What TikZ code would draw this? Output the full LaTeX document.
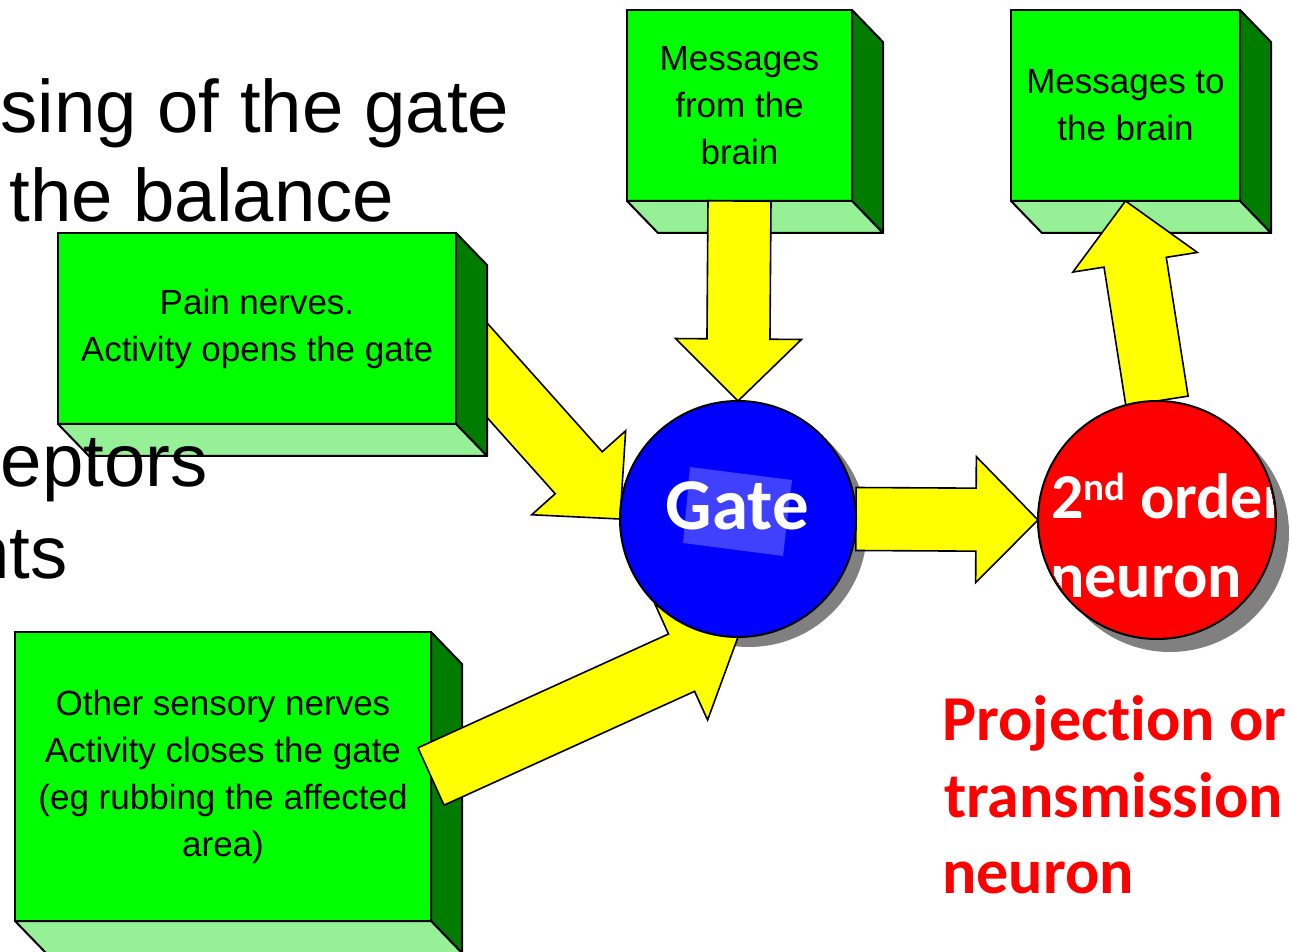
\documentclass[tikz,border=0pt]{standalone}
\usepackage{fontspec}
\newfontfamily\arialfont{Liberation Sans}
\newfontfamily\califont{Carlito}[Ligatures=NoCommon]
\usetikzlibrary{calc}

\definecolor{facegreen}{RGB}{0,255,0}
\definecolor{sidegreen}{RGB}{0,125,0}
\definecolor{hatchgreen}{RGB}{150,240,150}
\definecolor{arrowyellow}{RGB}{255,255,0}
\definecolor{gateblue}{RGB}{0,0,255}
\definecolor{gatehilite}{RGB}{64,64,255}
\definecolor{neuronred}{RGB}{255,0,0}
\definecolor{shadegrey}{RGB}{128,128,128}

\pgfdeclarelayer{shadowlayer}
\pgfdeclarelayer{underlayer}
\pgfdeclarelayer{arrowlayer}
\pgfdeclarelayer{frontlayer}
\pgfsetlayers{shadowlayer,underlayer,main,arrowlayer,frontlayer}

\tikzset{
  frontface/.style={draw=black, line width=1pt, fill=facegreen, inner sep=0pt,
    outer sep=0pt, align=center, font={\arialfont\fontsize{17.5pt}{23.5pt}\selectfont}},
  sideface/.style={draw=black, line width=1pt, fill=sidegreen, line join=round},
  bottomface/.style={draw=black, line width=1pt, fill=hatchgreen, line join=round},
  arrowbody/.style={draw=black, line width=0.8pt, fill=arrowyellow, line join=miter},
  ball/.style={circle, draw=black, line width=1pt, inner sep=0pt, outer sep=0pt, minimum size=#1},
  slidetext/.style={inner sep=0pt, font={\arialfont\fontsize{37.2pt}{44pt}\selectfont}},
  whitelabel/.style={inner sep=0pt, text=white, font={\califont\bfseries\fontsize{32pt}{38pt}\selectfont}},
  gatelabel/.style={inner sep=0pt, text=white, font={\califont\bfseries\fontsize{36.5pt}{44pt}\selectfont}},
  redlabel/.style={inner sep=0pt, text=neuronred, anchor=base west,
    font={\califont\bfseries\fontsize{32pt}{38pt}\selectfont}},
}

% block arrow with a wide shaft and a triangular head, from #1 to #2
\newcommand{\blockarrow}[2]{%
  \coordinate (ba-s) at (#1);
  \coordinate (ba-e) at (#2);
  \coordinate (ba-h) at ($(ba-e)!31pt!(ba-s)$);
  \filldraw[arrowbody]
    ($(ba-s)!15.75pt!90:(ba-e)$) -- ($(ba-h)!15.75pt!90:(ba-e)$)
    -- ($(ba-h)!31.5pt!90:(ba-e)$) -- (ba-e)
    -- ($(ba-h)!31.5pt!-90:(ba-e)$) -- ($(ba-h)!15.75pt!-90:(ba-e)$)
    -- ($(ba-s)!15.75pt!-90:(ba-e)$) -- cycle;
}

% green 3D box: name, centre x, centre y, width, height, text
\newcommand{\greenbox}[6]{%
  \node[frontface, minimum width=#4*0.5pt, minimum height=#5*0.5pt] (#1) at (#2,#3) {#6};
  \filldraw[sideface] (#1.north east) -- ++(31,32) -- ($(#1.south east)+(31,32)$)
    -- (#1.south east) -- cycle;
  \filldraw[bottomface] (#1.south west) -- (#1.south east) -- ($(#1.south east)+(31,32)$)
    -- ($(#1.south west)+(31,32)$) -- cycle;
}

\begin{document}
\begin{tikzpicture}[x=0.5pt,y=-0.5pt]
\useasboundingbox (0,0) rectangle (1292,952);

% gate and second order neuron
\begin{pgfonlayer}{frontlayer}
  \node[ball=118pt, fill=gateblue] (gate) at (738,519) {};
  \node[ball=119pt, fill=neuronred] (neuron) at (1157,520) {};
  \fill[gatehilite] (690,467) -- (792,480) -- (783,556) -- (683,543) -- cycle;
  \node[gatelabel, anchor=base] (gatetext) at (737.5,530) {Gate};
  \begin{scope}
    \clip (neuron.center) circle[radius=117];
    \node[whitelabel, anchor=base west] (ordertext) at (1051,518)
      {2\raisebox{9pt}{\fontsize{19.5pt}{20pt}\selectfont nd} order};
    \node[whitelabel, anchor=base west] (neurontext) at (1050,597) {neuron};
  \end{scope}

  % slide text partly covered by the diagram
  \node[slidetext, anchor=base west] (line1) at (0,133) {sing of the gate};
  \node[slidetext, anchor=base west] (line2) at (9,222) {the balance};
  \node[slidetext, anchor=base east] (line3) at (208,487) {eptors};
  \node[slidetext, anchor=base east] (line4) at (68,578) {nts};

  \node[redlabel] (proj1) at (942,740) {Projection or};
  \node[redlabel] (proj2) at (944,817) {transmission};
  \node[redlabel] (proj3) at (942,893) {neuron};
\end{pgfonlayer}

\begin{pgfonlayer}{shadowlayer}
  \fill[shadegrey] ($(gate.center)+(11,10)$) circle[radius=118];
  \fill[shadegrey] ($(neuron.center)+(13,13)$) circle[radius=119];
\end{pgfonlayer}

% boxes
\greenbox{fromB}{739.5}{105.5}{225}{191}{Messages\\from the\\brain}
\greenbox{toB}{1125.5}{105.5}{229}{191}{Messages to\\the brain}
\greenbox{pain}{257}{328.5}{398}{191}{Pain nerves.\\Activity opens the gate}
\greenbox{other}{223}{776.5}{416}{289}{Other sensory nerves\\Activity closes the gate\\(eg rubbing the affected\\area)}

% arrows
\begin{pgfonlayer}{underlayer}
  \blockarrow{$(pain.east)+(0,7)$}{gate.west}
\end{pgfonlayer}
\begin{pgfonlayer}{arrowlayer}
  \blockarrow{fromB.south}{gate.north}
  \blockarrow{gate.east}{neuron.west}
  \blockarrow{neuron.north}{toB.south}
  \blockarrow{other.east}{gate.south}
\end{pgfonlayer}
\end{tikzpicture}
\end{document}
